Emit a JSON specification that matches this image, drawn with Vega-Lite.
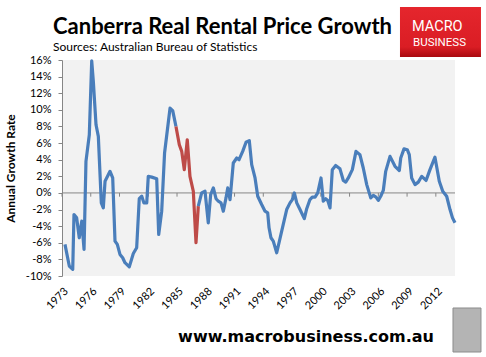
{
  "$schema": "https://vega.github.io/schema/vega-lite/v6.json",
  "width": 393,
  "height": 216,
  "autosize": {"type": "none"},
  "padding": {"left": 62, "top": 60, "right": 31, "bottom": 81},
  "background": "white",
  "view": {"fill": "#f2f2f2", "stroke": null},
  "config": {
    "axis": {"labelOverlap": false, "labelFont": "Lato", "labelFontSize": 11, "labelColor": "black", "grid": false, "tickCount": 40},
    "axisX": {"domain": false, "ticks": false, "labelAngle": -45, "labelPadding": 9, "labelFlush": false},
    "axisY": {"domainColor": "#868686", "tickColor": "#868686", "tickSize": 4, "labelPadding": 7, "titleFont": "Lato", "titleFontSize": 12, "titleFontWeight": "bold", "titleColor": "black", "titlePadding": 8}
  },
  "title": {
    "text": "Canberra Real Rental Price Growth",
    "subtitle": "Sources: Australian Bureau of Statistics",
    "anchor": "start",
    "frame": "group",
    "font": "Lato",
    "fontSize": 22,
    "fontWeight": "bold",
    "color": "black",
    "subtitleFont": "Lato",
    "subtitleFontSize": 12,
    "subtitleColor": "black",
    "subtitlePadding": 3,
    "offset": 0,
    "dx": -9,
    "dy": 47
  },
  "datasets": {
    "series": [
      {"t": 1973.31, "v": -6.2, "s": "a1"},
      {"t": 1973.76, "v": -8.8, "s": "a1"},
      {"t": 1974.12, "v": -9.2, "s": "a1"},
      {"t": 1974.25, "v": -2.6, "s": "a1"},
      {"t": 1974.53, "v": -3.0, "s": "a1"},
      {"t": 1974.80, "v": -5.4, "s": "a1"},
      {"t": 1975.06, "v": -3.4, "s": "a1"},
      {"t": 1975.30, "v": -6.8, "s": "a1"},
      {"t": 1975.50, "v": 3.8, "s": "a1"},
      {"t": 1975.85, "v": 7.0, "s": "a1"},
      {"t": 1976.10, "v": 15.9, "s": "a1"},
      {"t": 1976.27, "v": 13.4, "s": "a1"},
      {"t": 1976.55, "v": 8.2, "s": "a1"},
      {"t": 1976.79, "v": 6.8, "s": "a1"},
      {"t": 1977.10, "v": -1.2, "s": "a1"},
      {"t": 1977.31, "v": -1.8, "s": "a1"},
      {"t": 1977.49, "v": 1.4, "s": "a1"},
      {"t": 1978.01, "v": 2.6, "s": "a1"},
      {"t": 1978.29, "v": 1.8, "s": "a1"},
      {"t": 1978.53, "v": -5.8, "s": "a1"},
      {"t": 1978.77, "v": -6.2, "s": "a1"},
      {"t": 1979.05, "v": -7.4, "s": "a1"},
      {"t": 1979.33, "v": -7.8, "s": "a1"},
      {"t": 1979.57, "v": -8.4, "s": "a1"},
      {"t": 1980.02, "v": -8.9, "s": "a1"},
      {"t": 1980.44, "v": -7.3, "s": "a1"},
      {"t": 1980.79, "v": -6.6, "s": "a1"},
      {"t": 1981.06, "v": -0.7, "s": "a1"},
      {"t": 1981.32, "v": -0.4, "s": "a1"},
      {"t": 1981.55, "v": -1.2, "s": "a1"},
      {"t": 1981.84, "v": -1.2, "s": "a1"},
      {"t": 1982.00, "v": 2.0, "s": "a1"},
      {"t": 1982.36, "v": 1.9, "s": "a1"},
      {"t": 1982.88, "v": 1.7, "s": "a1"},
      {"t": 1983.09, "v": -5.0, "s": "a1"},
      {"t": 1983.40, "v": -2.2, "s": "a1"},
      {"t": 1983.70, "v": 4.8, "s": "a1"},
      {"t": 1984.27, "v": 10.2, "s": "a1"},
      {"t": 1984.55, "v": 9.9, "s": "a1"},
      {"t": 1984.89, "v": 8.0, "s": "a1"},
      {"t": 1984.89, "v": 8.0, "s": "r"},
      {"t": 1985.24, "v": 5.8, "s": "r"},
      {"t": 1985.49, "v": 5.0, "s": "r"},
      {"t": 1985.76, "v": 2.8, "s": "r"},
      {"t": 1986.07, "v": 6.4, "s": "r"},
      {"t": 1986.35, "v": 2.0, "s": "r"},
      {"t": 1986.70, "v": 0.2, "s": "r"},
      {"t": 1986.98, "v": -6.0, "s": "r"},
      {"t": 1987.22, "v": -1.6, "s": "r"},
      {"t": 1987.22, "v": -1.6, "s": "a2"},
      {"t": 1987.57, "v": 0.0, "s": "a2"},
      {"t": 1987.92, "v": 0.2, "s": "a2"},
      {"t": 1988.26, "v": -3.6, "s": "a2"},
      {"t": 1988.51, "v": -0.2, "s": "a2"},
      {"t": 1988.79, "v": 0.6, "s": "a2"},
      {"t": 1989.07, "v": -0.7, "s": "a2"},
      {"t": 1989.31, "v": -1.0, "s": "a2"},
      {"t": 1989.59, "v": -1.2, "s": "a2"},
      {"t": 1989.83, "v": -2.2, "s": "a2"},
      {"t": 1990.11, "v": -0.6, "s": "a2"},
      {"t": 1990.29, "v": 0.6, "s": "a2"},
      {"t": 1990.53, "v": -0.8, "s": "a2"},
      {"t": 1990.87, "v": 3.6, "s": "a2"},
      {"t": 1991.23, "v": 4.2, "s": "a2"},
      {"t": 1991.47, "v": 4.0, "s": "a2"},
      {"t": 1991.85, "v": 5.0, "s": "a2"},
      {"t": 1992.20, "v": 6.1, "s": "a2"},
      {"t": 1992.54, "v": 6.3, "s": "a2"},
      {"t": 1992.79, "v": 3.4, "s": "a2"},
      {"t": 1993.14, "v": 1.8, "s": "a2"},
      {"t": 1993.42, "v": -0.4, "s": "a2"},
      {"t": 1993.83, "v": -1.4, "s": "a2"},
      {"t": 1994.18, "v": -2.2, "s": "a2"},
      {"t": 1994.46, "v": -2.4, "s": "a2"},
      {"t": 1994.60, "v": -4.2, "s": "a2"},
      {"t": 1994.80, "v": -5.4, "s": "a2"},
      {"t": 1995.04, "v": -5.8, "s": "a2"},
      {"t": 1995.40, "v": -7.2, "s": "a2"},
      {"t": 1995.92, "v": -4.6, "s": "a2"},
      {"t": 1996.44, "v": -2.0, "s": "a2"},
      {"t": 1996.79, "v": -1.2, "s": "a2"},
      {"t": 1997.03, "v": -0.8, "s": "a2"},
      {"t": 1997.24, "v": 0.0, "s": "a2"},
      {"t": 1997.49, "v": -1.2, "s": "a2"},
      {"t": 1997.83, "v": -2.0, "s": "a2"},
      {"t": 1998.28, "v": -3.1, "s": "a2"},
      {"t": 1998.53, "v": -1.9, "s": "a2"},
      {"t": 1998.87, "v": -0.8, "s": "a2"},
      {"t": 1999.11, "v": -0.5, "s": "a2"},
      {"t": 1999.40, "v": -0.5, "s": "a2"},
      {"t": 1999.68, "v": 0.0, "s": "a2"},
      {"t": 2000.02, "v": 1.8, "s": "a2"},
      {"t": 2000.26, "v": -1.0, "s": "a2"},
      {"t": 2000.51, "v": -0.7, "s": "a2"},
      {"t": 2000.72, "v": -0.9, "s": "a2"},
      {"t": 2000.96, "v": -1.8, "s": "a2"},
      {"t": 2001.20, "v": 2.8, "s": "a2"},
      {"t": 2001.55, "v": 3.3, "s": "a2"},
      {"t": 2002.00, "v": 2.9, "s": "a2"},
      {"t": 2002.35, "v": 1.5, "s": "a2"},
      {"t": 2002.60, "v": 1.3, "s": "a2"},
      {"t": 2002.87, "v": 1.8, "s": "a2"},
      {"t": 2003.29, "v": 2.8, "s": "a2"},
      {"t": 2003.67, "v": 5.0, "s": "a2"},
      {"t": 2004.08, "v": 4.6, "s": "a2"},
      {"t": 2004.43, "v": 3.0, "s": "a2"},
      {"t": 2004.79, "v": 1.0, "s": "a2"},
      {"t": 2005.21, "v": -0.6, "s": "a2"},
      {"t": 2005.48, "v": -0.3, "s": "a2"},
      {"t": 2005.76, "v": -0.5, "s": "a2"},
      {"t": 2006.00, "v": -0.9, "s": "a2"},
      {"t": 2006.25, "v": -0.4, "s": "a2"},
      {"t": 2006.52, "v": 0.3, "s": "a2"},
      {"t": 2006.77, "v": 2.6, "s": "a2"},
      {"t": 2007.22, "v": 4.4, "s": "a2"},
      {"t": 2007.74, "v": 3.2, "s": "a2"},
      {"t": 2008.19, "v": 2.7, "s": "a2"},
      {"t": 2008.34, "v": 4.2, "s": "a2"},
      {"t": 2008.68, "v": 5.3, "s": "a2"},
      {"t": 2009.02, "v": 5.2, "s": "a2"},
      {"t": 2009.23, "v": 4.6, "s": "a2"},
      {"t": 2009.48, "v": 1.8, "s": "a2"},
      {"t": 2009.83, "v": 1.0, "s": "a2"},
      {"t": 2010.17, "v": 1.3, "s": "a2"},
      {"t": 2010.53, "v": 2.0, "s": "a2"},
      {"t": 2010.98, "v": 1.5, "s": "a2"},
      {"t": 2011.39, "v": 2.8, "s": "a2"},
      {"t": 2011.91, "v": 4.3, "s": "a2"},
      {"t": 2012.36, "v": 1.4, "s": "a2"},
      {"t": 2012.72, "v": 0.2, "s": "a2"},
      {"t": 2013.13, "v": -0.4, "s": "a2"},
      {"t": 2013.48, "v": -2.0, "s": "a2"},
      {"t": 2013.74, "v": -3.0, "s": "a2"},
      {"t": 2014.00, "v": -3.6, "s": "a2"}
    ],
    "ticks": [
      {"t": 1973}, {"t": 1976}, {"t": 1979}, {"t": 1982}, {"t": 1985},
      {"t": 1988}, {"t": 1991}, {"t": 1994}, {"t": 1997}, {"t": 2000},
      {"t": 2003}, {"t": 2006}, {"t": 2009}, {"t": 2012}
    ]
  },
  "layer": [
    {
      "data": {"values": [{"z": 0}]},
      "mark": {"type": "rule", "color": "#868686", "strokeWidth": 1},
      "encoding": {
        "y": {"field": "z", "type": "quantitative", "scale": {"domain": [-10, 16], "nice": false, "zero": false}}
      }
    },
    {
      "data": {"name": "ticks"},
      "mark": {"type": "rule", "color": "#868686", "strokeWidth": 1},
      "encoding": {
        "x": {"field": "t", "type": "quantitative", "scale": {"domain": [1973, 2014], "nice": false, "zero": false}},
        "y": {"datum": 0, "type": "quantitative", "scale": {"domain": [-10, 16], "nice": false, "zero": false}},
        "y2": {"datum": -0.45}
      }
    },
    {
      "data": {"name": "series"},
      "mark": {"type": "line", "strokeWidth": 3.2, "strokeCap": "butt", "strokeJoin": "round"},
      "encoding": {
        "x": {
          "field": "t", "type": "quantitative",
          "scale": {"domain": [1973, 2014], "nice": false, "zero": false},
          "axis": {
            "values": [1973, 1976, 1979, 1982, 1985, 1988, 1991, 1994, 1997, 2000, 2003, 2006, 2009, 2012],
            "format": "d", "title": null, "labelOverlap": false, "tickCount": 40
          }
        },
        "y": {
          "field": "v", "type": "quantitative",
          "scale": {"domain": [-10, 16], "nice": false, "zero": false},
          "axis": {
            "values": [-10, -8, -6, -4, -2, 0, 2, 4, 6, 8, 10, 12, 14, 16],
            "labelExpr": "datum.value + '%'", "labelOverlap": false, "tickCount": 40,
            "title": "Annual Growth Rate"
          }
        },
        "color": {"field": "s", "type": "nominal", "scale": {"domain": ["a1", "r", "a2"], "range": ["#4a7ebb", "#be4b48", "#4a7ebb"]}, "legend": null},
        "order": {"field": "t", "type": "quantitative"}
      }
    },
    {
      "data": {"values": [{"k": "logo"}]},
      "mark": {"type": "rect", "fill": {"gradient": "linear", "x1": 0, "y1": 0, "x2": 0, "y2": 1, "stops": [{"offset": 0, "color": "#e5262d"}, {"offset": 0.8, "color": "#da1d24"}, {"offset": 1, "color": "#a90a0f"}]}},
      "encoding": {
        "x": {"datum": 2008.26, "type": "quantitative", "scale": {"domain": [1973, 2014], "nice": false, "zero": false}},
        "x2": {"datum": 2016.71},
        "y": {"datum": 22.38, "type": "quantitative", "scale": {"domain": [-10, 16], "nice": false, "zero": false}},
        "y2": {"datum": 16.36}
      }
    },
    {
      "data": {"values": [{"label": "MACRO", "t": 2009.52, "v": 19.49, "sz": "big"}, {"label": "BUSINESS", "t": 2009.62, "v": 17.68, "sz": "small"}]},
      "mark": {"type": "text", "color": "white", "font": "Roboto", "align": "left", "baseline": "alphabetic"},
      "encoding": {
        "x": {"field": "t", "type": "quantitative", "scale": {"domain": [1973, 2014], "nice": false, "zero": false}},
        "y": {"field": "v", "type": "quantitative", "scale": {"domain": [-10, 16], "nice": false, "zero": false}},
        "text": {"field": "label"},
        "size": {"field": "sz", "type": "nominal", "scale": {"domain": ["big", "small"], "range": [14.5, 11.5]}, "legend": null}
      }
    },
    {
      "data": {"values": [{"label": "www.macrobusiness.com.au"}]},
      "mark": {"type": "text", "color": "black", "font": "DejaVu Sans", "fontWeight": "bold", "fontSize": 16, "align": "center", "baseline": "alphabetic"},
      "encoding": {
        "x": {"datum": 1998.46, "type": "quantitative", "scale": {"domain": [1973, 2014], "nice": false, "zero": false}},
        "y": {"datum": -17.95, "type": "quantitative", "scale": {"domain": [-10, 16], "nice": false, "zero": false}},
        "text": {"field": "label"}
      }
    },
    {
      "data": {"values": [{"k": "wolf"}]},
      "mark": {"type": "rect", "fill": "#b4b4b4", "stroke": "#8c8c8c", "strokeWidth": 1},
      "encoding": {
        "x": {"datum": 2013.79, "type": "quantitative", "scale": {"domain": [1973, 2014], "nice": false, "zero": false}},
        "x2": {"datum": 2016.71},
        "y": {"datum": -13.85, "type": "quantitative", "scale": {"domain": [-10, 16], "nice": false, "zero": false}},
        "y2": {"datum": -19.15}
      }
    }
  ]
}
